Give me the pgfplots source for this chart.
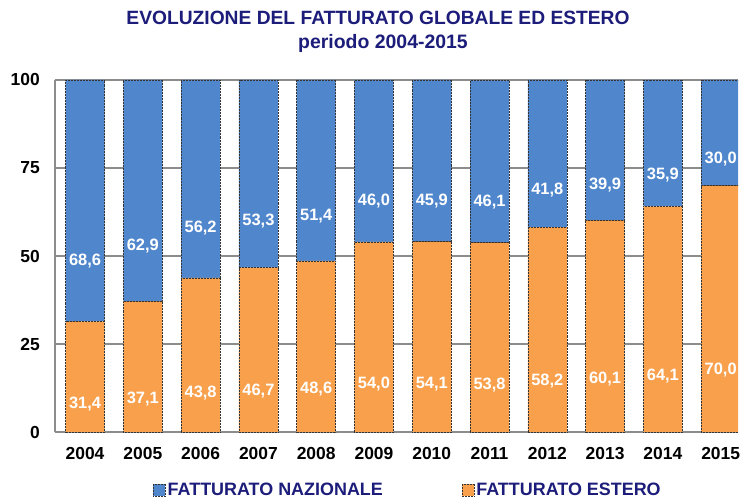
\documentclass[border=0pt]{standalone}
\usepackage{pgfplots}
\pgfplotsset{compat=1.18}
\usepackage{fontspec}
\setmainfont{Liberation Sans}
\definecolor{navy}{HTML}{1C1C7A}
\definecolor{blu}{HTML}{4F86CC}
\definecolor{ora}{HTML}{F8A04C}
\definecolor{gridc}{HTML}{8C8C8C}
\begin{document}
\begin{tikzpicture}
\path[use as bounding box] (-55bp,-67bp) rectangle (685bp,432bp);
\begin{axis}[
  at={(0,0)}, anchor=south west,
  scale only axis, width=683bp, height=352bp,
  xmin=-0.52, xmax=11.3, ymin=0, ymax=100,
  ybar stacked, bar width=39bp,
  xtick={0,1,2,3,4,5,6,7,8,9,10,11},
  xticklabels={2004,2005,2006,2007,2008,2009,2010,2011,2012,2013,2014,2015},
  ytick={0,25,50,75,100},
  yticklabel={\pgfmathprintnumber[fixed,precision=0]{\tick}},
  major tick length=0pt,
  ymajorgrids, grid style={gridc, line width=1.5pt},
  axis x line*=bottom, axis y line*=left,
  axis line style={gridc, line width=1.5pt},
  /pgf/number format/assume math mode=true,
  ticklabel style={font=\bfseries\fontsize{17.5}{18}\selectfont, text=black},
  yticklabel style={inner sep=0pt, xshift=-15bp},
  xticklabel style={inner sep=0pt, yshift=-15bp},
  nodes near coords={\pgfmathprintnumber[use comma,fixed,fixed zerofill,precision=1]{\pgfplotspointmeta}},
  visualization depends on=rawy \as \rawy,
  every node near coord/.append style={anchor=center, text=white,
     font=\bfseries\fontsize{16.5}{17}\selectfont,
     shift={(axis direction cs:0,-\rawy/4)}},
  legend columns=2, reverse legend,
  legend style={draw=none, fill=none, at={(0.1435,-0.165)}, anchor=west, inner sep=0pt,
     nodes={inner sep=2bp, text=navy, font=\bfseries\fontsize{18}{19}\selectfont},
     /tikz/every even column/.append style={column sep=77bp}},
  legend image code/.code={\fill[#1] (0bp,-6bp) rectangle (12bp,6bp);},
]
\addplot[fill=ora, draw=black!80, densely dotted, line width=0.5pt] coordinates {
 (0,31.4) (1,37.1) (2,43.8) (3,46.7) (4,48.6) (5,54.0) (6,54.1) (7,53.8) (8,58.2) (9,60.1) (10,64.1) (11,70.0)};
\addlegendentry{FATTURATO ESTERO}
\addplot[fill=blu, draw=black!80, densely dotted, line width=0.5pt] coordinates {
 (0,68.6) (1,62.9) (2,56.2) (3,53.3) (4,51.4) (5,46.0) (6,45.9) (7,46.1) (8,41.8) (9,39.9) (10,35.9) (11,30.0)};
\addlegendentry{FATTURATO NAZIONALE}
\end{axis}
\node[font=\bfseries\fontsize{19.3}{20}\selectfont, text=navy] at (323bp,414bp) {EVOLUZIONE DEL FATTURATO GLOBALE ED ESTERO};
\node[font=\bfseries\fontsize{19.5}{20}\selectfont, text=navy] at (328bp,389bp) {periodo 2004-2015};
\end{tikzpicture}
\end{document}
